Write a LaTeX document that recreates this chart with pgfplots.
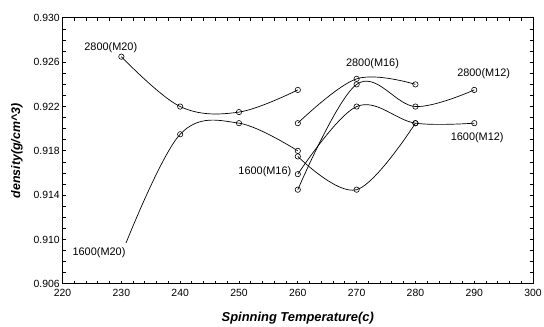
\documentclass[border=0pt]{standalone}
\usepackage{pgfplots}
\pgfplotsset{compat=1.18}
\usepackage{fontspec}
\setmainfont{Liberation Sans}
\begin{document}
\fontsize{11bp}{13bp}\selectfont
\begin{tikzpicture}[
  crv/.style={black, line width=0.7pt, smooth, tension=0.6,
     mark=o, mark size=2.7bp, mark options={black, line width=0.6pt, solid}},
  lbl/.style={font=\fontsize{11bp}{13bp}\selectfont}]
\begin{axis}[
  scale only axis, width=474bp, height=268bp,
  xmin=220, xmax=300, ymin=0.906, ymax=0.930,
  xtick={220,230,...,300},
  ytick={0.906,0.910,...,0.9301},
  minor xtick={222,224,...,298},
  minor ytick={0.907,0.908,...,0.9295},
  tick align=inside,
  major tick length=3bp, minor tick length=3bp,
  tick style={draw=black, line width=0.9pt},
  minor tick style={draw=black, line width=0.9pt},
  axis line style={black, line width=1pt},
  /pgf/number format/assume math mode=true,
  /pgf/number format/fixed, /pgf/number format/fixed zerofill,
  scaled y ticks=false,
  yticklabel style={/pgf/number format/precision=3, xshift=1bp},
  xticklabel style={/pgf/number format/precision=0, yshift=-1bp},
  ticklabel style={font=\fontsize{10.5bp}{12bp}\selectfont},
  xlabel={\bfseries\itshape Spinning Temperature(c)},
  ylabel={\bfseries\itshape density(g/cm\^{}3)},
  xlabel style={font=\fontsize{13bp}{15bp}\selectfont, at={(axis description cs:0.5,-0.127)}, anchor=center},
  ylabel style={font=\fontsize{12.5bp}{15bp}\selectfont, at={(axis description cs:-0.097,0.5)}, anchor=center},
  clip=false,
]
% 2800(M20)
\addplot[crv] coordinates {(230,0.9265) (240,0.9220) (250,0.9215) (260,0.9235)};
% 1600(M20)
\addplot[crv, mark indices={2,3,4}] coordinates {(230.8,0.9097) (240,0.9195) (250,0.9205) (260,0.9180)};
% 2800(M16)
\addplot[crv] coordinates {(260,0.9205) (270,0.9245) (280,0.9240)};
% 1600(M16)
\addplot[crv] coordinates {(260,0.9175) (270,0.9145) (280,0.9205)};
% 2800(M12)
\addplot[crv] coordinates {(260,0.9145) (270,0.9240) (280,0.9220) (290,0.9235)};
% 1600(M12)
\addplot[crv] coordinates {(260,0.9159) (270,0.9220) (280,0.9205) (290,0.9205)};
\node[lbl] at (axis cs:228.2,0.9273) {2800(M20)};
\node[lbl] at (axis cs:226.2,0.9088) {1600(M20)};
\node[lbl] at (axis cs:254.4,0.9161) {1600(M16)};
\node[lbl] at (axis cs:272.7,0.9259) {2800(M16)};
\node[lbl] at (axis cs:291.6,0.9250) {2800(M12)};
\node[lbl] at (axis cs:290.5,0.9192) {1600(M12)};
\end{axis}
\pgfresetboundingbox
\path (current axis.south west) ++(-63bp,-43bp) rectangle ++(548bp,329bp);
\end{tikzpicture}
\end{document}
